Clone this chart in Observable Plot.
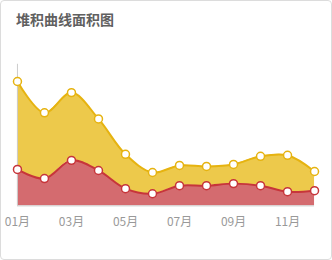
<!DOCTYPE html>
<html>
<head>
<meta charset="utf-8">
<script src="https://cdn.jsdelivr.net/npm/d3@7"></script>
<script src="https://cdn.jsdelivr.net/npm/@observablehq/plot@0.6"></script>
<style>
  html, body { margin: 0; padding: 0; background: #fff; }
  #card { position: relative; width: 330px; height: 258px; border: 1px solid #dcdcdc; border-radius: 4px; overflow: hidden; }
  #title { position: absolute; left: 15px; top: 8px; font: bold 14px "Noto Sans CJK SC", sans-serif; color: #606060; }
  #chart { position: absolute; left: -1px; top: 0px; }
</style>
</head>
<body>
<div id="card">
  <div id="title">堆积曲线面积图</div>
  <div id="chart"></div>
</div>
<script>
const months = [1,2,3,4,5,6,7,8,9,10,11,12];
const tickMonths = [1,3,5,7,9,11];
const seriesNames = ["系列一", "系列二"];
const seriesA = [36, 27, 45, 35, 17, 12, 20, 20, 22, 20, 14, 15];
const seriesB = [87, 65, 67, 51, 34, 21, 20, 19, 19, 29, 36, 19];
const fillColors = {"系列一": "#d46b6f", "系列二": "#edc94b"};
const lineColors = {"系列一": "#c7353a", "系列二": "#e6b310"};

const data = [];
[seriesA, seriesB].forEach((vals, i) => {
  months.forEach((m, j) => data.push({month: m, series: seriesNames[i], value: vals[j]}));
});

const curve = "catmull-rom";
const chart = Plot.plot({
  width: 332,
  height: 260,
  marginLeft: 17,
  marginRight: 17,
  marginTop: 63,
  marginBottom: 55,
  style: {fontFamily: "'Noto Sans CJK SC', sans-serif", fontSize: "12px", color: "#999", background: "transparent"},
  x: {domain: [1, 12], ticks: tickMonths, tickFormat: d => String(d).padStart(2, "0") + "月", tickSize: 0, tickPadding: 12, label: null},
  y: {domain: [0, 140], axis: null},
  marks: [
    Plot.areaY(data, {x: "month", y: "value", z: "series", fill: d => fillColors[d.series], curve}),
    Plot.ruleY([0], {stroke: "#ccc"}),
    Plot.ruleX([1], {y1: 0, y2: 140, stroke: "#ccc"}),
    Plot.lineY(data, Plot.stackY2({x: "month", y: "value", z: "series", stroke: d => lineColors[d.series], strokeWidth: 2, curve})),
    Plot.dot(data, Plot.stackY2({x: "month", y: "value", z: "series", stroke: d => lineColors[d.series], fill: "white", r: 4, strokeWidth: 1.5}))
  ]
});
document.getElementById("chart").appendChild(chart);
</script>
</body>
</html>
